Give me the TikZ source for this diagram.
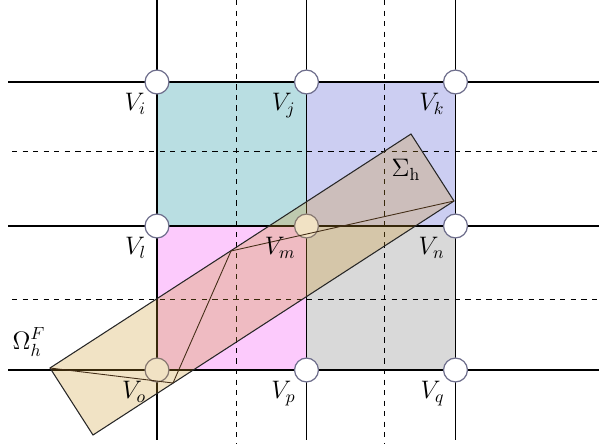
\documentclass[tikz,border=0pt]{standalone}
\usepackage{amsmath,amssymb}
\usepackage{xcolor}
\usetikzlibrary{positioning}
\definecolor{cellteal}{RGB}{185,222,226}
\definecolor{cellblue}{RGB}{204,206,242}
\definecolor{cellpink}{RGB}{252,202,252}
\definecolor{cellgray}{RGB}{217,217,217}
\definecolor{bandgold}{RGB}{204,150,40}
\definecolor{ringgray}{RGB}{110,110,140}

\begin{document}
\begin{tikzpicture}[x=0.02cm,y=-0.02cm,
  vtx/.style={circle,draw=ringgray,line width=0.7pt,fill=white,minimum size=13.6pt,inner sep=0pt},
  lbl/.style={font=\Large,inner sep=1pt}]
  \useasboundingbox (0,0) rectangle (599,444);
  \fill[cellteal] (157,82) rectangle (306.5,226); \fill[cellblue] (306.5,82) rectangle (455.5,226);
  \fill[cellpink] (157,226) rectangle (306.5,370); \fill[cellgray] (306.5,226) rectangle (455.5,370);
  \foreach \y in {82,226,370}{\draw[line width=1.1pt] (8,\y) -- (599,\y);}
  \foreach \x in {157,306.5,455.5}{\draw[line width=1.1pt] (\x,0) -- (\x,440);}
  \foreach \y in {151.5,299}{\draw[dashed,line width=0.5pt] (12,\y) -- (599,\y);}
  \foreach \x in {236.5,384.5}{\draw[dashed,line width=0.5pt] (\x,0) -- (\x,444);}
  \foreach \n/\x/\y in {i/157/82,j/306.5/82,k/455.5/82,l/157/226,m/306.5/226,n/455.5/226,o/157/370,p/306.5/370,q/455.5/370}
    {\node[vtx] (V\n) at (\x,\y) {};}
  \coordinate (bL) at (50,368); \coordinate (bT) at (411,134); \coordinate (bR) at (454,201); \coordinate (bB) at (93,435);
  \coordinate (c1) at (173,383); \coordinate (c2) at (231,251);
  \draw[fill=bandgold,fill opacity=0.27,draw=black!85,line width=0.6pt] (bL) -- (bT) -- (bR) -- (bB) -- cycle;
  \draw[brown!35!black,line width=0.5pt] (bL) -- (c1) -- (c2) -- (bR);
  \foreach \n in {i,j,k,l,m,n,o,p,q}{\node[lbl,below left=0pt of V\n] {$V_\n$};}
  \node[lbl] (sig) at (406,170) {$\Sigma_{\mathrm{h}}$};
  \node[lbl] (omg) at (29,342) {$\Omega_h^F$};
\end{tikzpicture}
\end{document}
